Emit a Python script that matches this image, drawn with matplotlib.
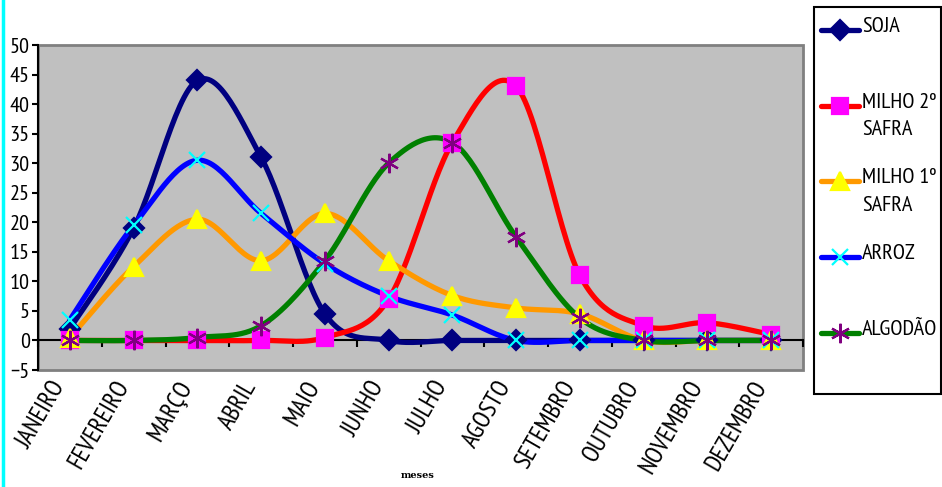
import numpy as np
import matplotlib
matplotlib.use('Agg')
import matplotlib.pyplot as plt
from matplotlib.lines import Line2D
from matplotlib.patches import Rectangle

# data
meses = ['JANEIRO', 'FEVEREIRO', 'MARÇO', 'ABRIL', 'MAIO', 'JUNHO', 'JULHO',
         'AGOSTO', 'SETEMBRO', 'OUTUBRO', 'NOVEMBRO', 'DEZEMBRO']
soja = [2, 19, 44, 31, 4.5, 0, 0, 0, 0, 0, 0, 0]
milho2 = [0, 0, 0, 0, 0.5, 7, 33.5, 43, 11, 2.5, 3, 1]
milho1 = [0.5, 12.5, 20.5, 13.5, 21.5, 13.5, 7.6, 5.5, 4.5, 0, 0, 0]
arroz = [3.5, 19.5, 30.5, 21.5, 13, 7.5, 4.3, 0, 0, 0, 0, 0]
algodao = [0, 0, 0.5, 2.5, 13.5, 30, 33.5, 17.5, 3.8, 0, 0, 0]

nomes = ['SOJA', 'MILHO 2º\nSAFRA', 'MILHO 1º\nSAFRA', 'ARROZ', 'ALGODÃO']
series = [soja, milho2, milho1, arroz, algodao]
cor_linha = ['#000080', '#FF0000', '#FF9900', '#0000FF', '#008000']
cor_marca = ['#000080', '#FF00FF', '#FFFF00', '#00FFFF', '#800080']
marcas = ['D', 's', '^', 'x', (6, 2, 0)]
tam = [10, 11, 13, 12, 14]

narrow = ['PT Sans Narrow', 'DejaVu Sans']


# excel-like smoothed line (bezier through points)
def smooth(y, n=30):
    x = np.arange(len(y), dtype=float)
    p = np.c_[x, np.asarray(y, dtype=float)]
    out = []
    for i in range(len(p) - 1):
        p0 = p[i - 1] if i > 0 else p[i]
        p1, p2 = p[i], p[i + 1]
        p3 = p[i + 2] if i + 2 < len(p) else p[i + 1]
        c1 = p1 + (p2 - p0) / 6
        c2 = p2 - (p3 - p1) / 6
        t = np.linspace(0, 1, n)[:, None]
        seg = ((1 - t) ** 3) * p1 + 3 * ((1 - t) ** 2) * t * c1 + 3 * (1 - t) * t ** 2 * c2 + t ** 3 * p2
        out.append(seg if i == 0 else seg[1:])
    out = np.vstack(out)
    return out[:, 0], out[:, 1]


fig = plt.figure(figsize=(9.42, 4.87), dpi=100)
ax = fig.add_axes([38 / 942, 1 - 370 / 487, (803 - 38) / 942, (370 - 45) / 487])
ax.set_facecolor('#C0C0C0')
ax.patch.set_edgecolor('#808080')
ax.patch.set_linewidth(2)

# spine moved first, it resets the ticks
ax.spines['bottom'].set_position(('data', 0))
ax.spines['bottom'].set_linewidth(1.5)
ax.spines['bottom'].set_zorder(2)
ax.spines['left'].set_linewidth(1.5)
ax.spines['top'].set_visible(False)
ax.spines['right'].set_visible(False)

x = np.arange(len(meses))
for s, nome, cl, cm, mk, ms in zip(series, nomes, cor_linha, cor_marca, marcas, tam):
    sx, sy = smooth(s)
    ax.plot(sx, sy, color=cl, lw=3.8, solid_capstyle='round', zorder=3)
    ax.plot(x, s, linestyle='none', marker=mk, ms=ms, color=cm, mec=cm, mew=1.6,
            zorder=4, clip_on=False)

ax.set_xlim(-0.5, len(meses) - 0.5)
ax.set_ylim(-5, 50)
ax.set_yticks(np.arange(-5, 51, 5))
ax.set_xticks(x)
ax.set_xticks(np.arange(-0.5, len(meses), 1), minor=True)
ax.tick_params(axis='x', which='major', length=0, pad=26)
ax.tick_params(axis='x', which='minor', length=5, width=1.5, direction='out')
ax.tick_params(axis='y', length=4, width=1.5, pad=2)
ax.set_xticklabels(meses, rotation=60, ha='right', va='top', family=narrow, fontsize=18)
for lab in ax.get_yticklabels():
    lab.set_family(narrow)
    lab.set_fontsize(16)

fig.text(418 / 942, 1 - 476 / 487, 'meses', family='serif', fontweight='bold',
         fontsize=7, ha='center', va='center')

# legend box
fig.patches.append(Rectangle((814 / 942, 1 - 394 / 487), 127 / 942, 387 / 487,
                             transform=fig.transFigure, fill=False, ec='black', lw=1.5))
for i, (nome, cl, cm, mk, ms) in enumerate(zip(nomes, cor_linha, cor_marca, marcas, tam)):
    yy = 1 - (30 + 75.7 * i) / 487
    fig.add_artist(Line2D([821 / 942, 859 / 942], [yy, yy], transform=fig.transFigure,
                          color=cl, lw=3.8, solid_capstyle='round'))
    fig.add_artist(Line2D([840 / 942], [yy], transform=fig.transFigure, linestyle='none',
                          marker=mk, ms=ms, color=cm, mec=cm, mew=1.6))
    fig.text(862 / 942, yy + 13 / 487, nome, family=narrow, fontsize=16, ha='left', va='top',
             linespacing=1.55)

# cyan border on the left
fig.add_artist(Line2D([3 / 942, 3 / 942], [0, 1], transform=fig.transFigure, color='#00FFFF', lw=2.5))

fig.savefig('out.png', dpi=100)
